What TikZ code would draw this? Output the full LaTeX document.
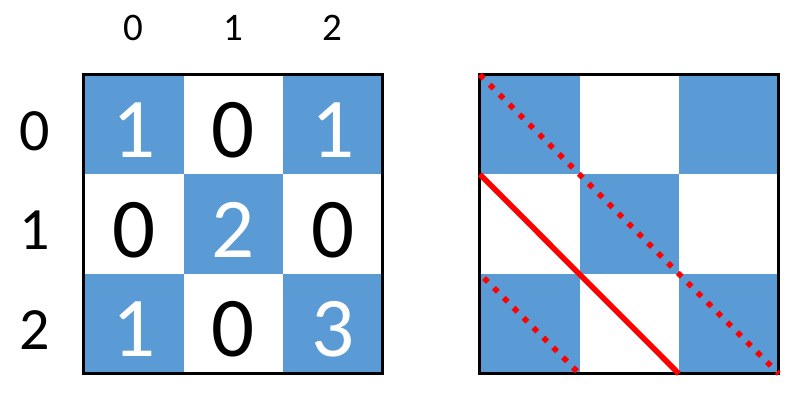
\documentclass[tikz,border=0pt]{standalone}
\usepackage{fontspec}
\setmainfont{Carlito}
\definecolor{cellblue}{HTML}{5B9BD5}
\tikzset{
  cell/.style={minimum size=99.5pt, inner sep=0pt, text height=66pt, text depth=0pt, font=\fontsize{85}{85}\selectfont},
  bluecell/.style={cell, fill=cellblue, text=white},
  whitecell/.style={cell, fill=white, text=black},
  rowlab/.style={inner sep=0pt, font=\fontsize{60}{60}\selectfont},
  collab/.style={inner sep=0pt, font=\fontsize{39}{39}\selectfont},
  frame/.style={line width=3pt},
  diag/.style={red, line width=5.5pt},
  dotdiag/.style={diag, dash pattern=on 5.5pt off 8.5pt},
}
\begin{document}
\begin{tikzpicture}[x=1pt, y=-1pt]
		\useasboundingbox (0,0) rectangle (804,409);
		
		%Left grid with values
		\foreach \r/\c/\v/\s in {0/0/1/bluecell, 0/1/0/whitecell, 0/2/1/bluecell,
		                          1/0/0/whitecell, 1/1/2/bluecell, 1/2/0/whitecell,
		                          2/0/1/bluecell, 2/1/0/whitecell, 2/2/3/bluecell}
		  \node[\s] (L-\r-\c) at ({133.75+99.5*\c},{124.75+99.5*\r}) {\v};
		\draw[frame] (L-0-0.north west) rectangle (L-2-2.south east);
		
		%Indices
		\foreach \i in {0,1,2} {
		  \node[collab] (col-\i) at ({133.75+99.5*\i},27.5) {\i};
		  \node[rowlab] (row-\i) at (35,{131+99.5*\i}) {\i};
		}
		
		%Right grid
		\foreach \r/\c/\s in {0/0/bluecell, 0/1/whitecell, 0/2/bluecell,
		                      1/0/whitecell, 1/1/bluecell, 1/2/whitecell,
		                      2/0/bluecell, 2/1/whitecell, 2/2/bluecell}
		  \node[\s] (R-\r-\c) at ({529.75+99.5*\c},{124.75+99.5*\r}) {};
		\draw[frame] (R-0-0.north west) rectangle (R-2-2.south east);
		
		%Diagonals
		\draw[dotdiag] (R-0-0.north west) -- (R-2-2.south east);
		\draw[diag] (R-1-0.north west) -- (R-2-2.south west);
		\draw[dotdiag, dash phase=8pt] (R-2-0.north west) -- (R-2-1.south west);
	\end{tikzpicture}
\end{document}
